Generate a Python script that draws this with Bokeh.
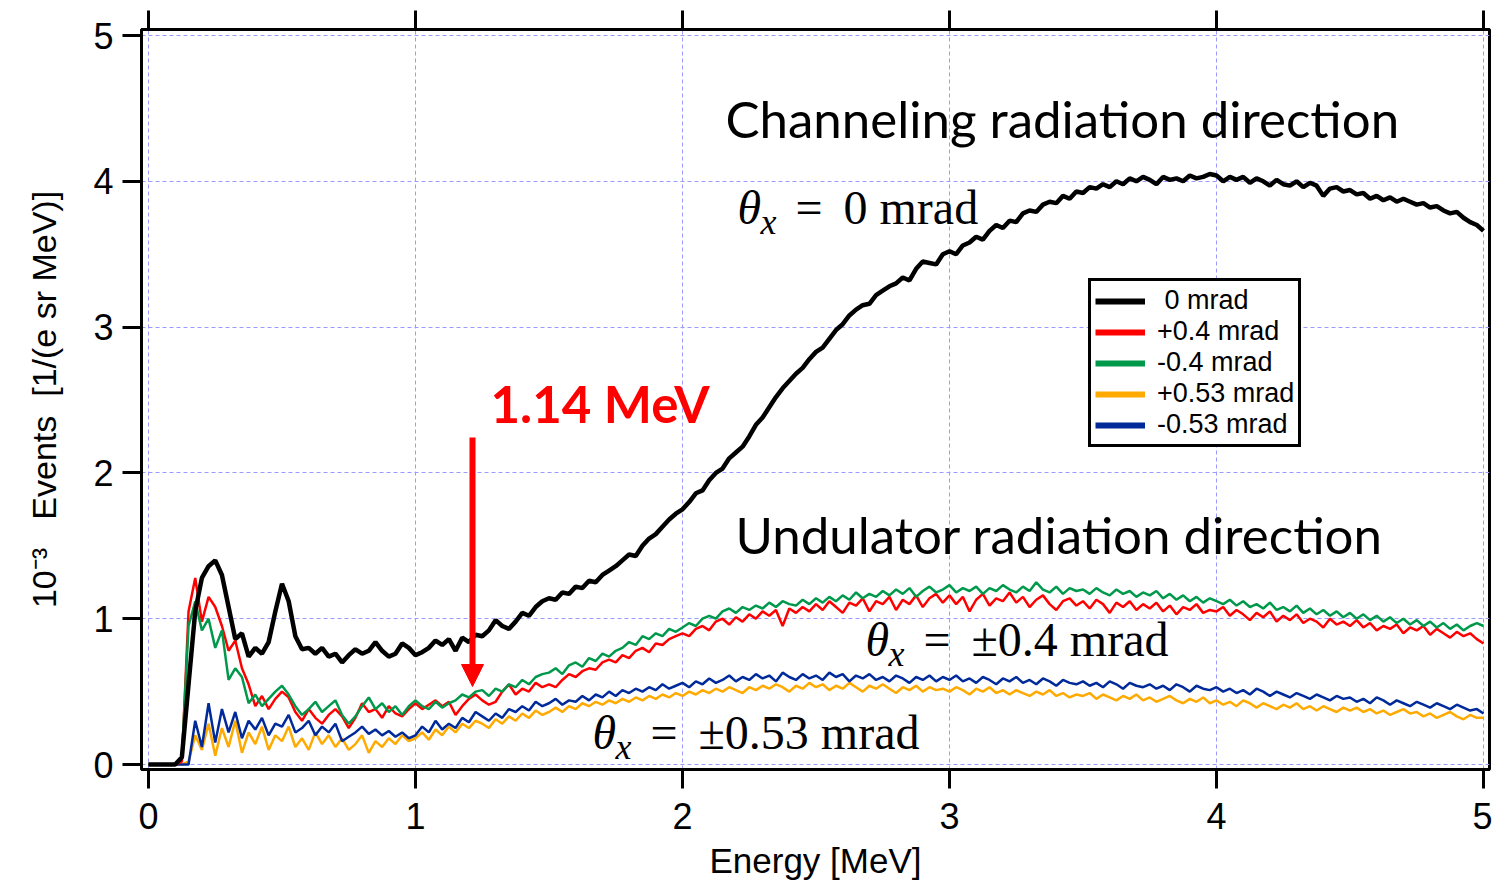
import math
from bokeh.plotting import figure
from bokeh.models import (Range1d, LinearAxis, FixedTicker, Label, Arrow,
                          NormalHead, Legend, LegendItem)
from bokeh.embed import file_html
from bokeh.resources import INLINE

# ---------------- data ----------------
energy = [round(0.025 * i, 3) for i in range(201)]   # MeV grid, 0 .. 5

ticks = [0, 1, 2, 3, 4, 5]

mrad_0 = [
    0, 0, 0, 0, 0, 0.05, 0.55, 1.05, 1.28, 1.36,
    1.40, 1.30, 1.08, 0.86, 0.90, 0.74, 0.80, 0.76, 0.84, 1.05,
    1.24, 1.12, 0.88, 0.79, 0.80, 0.76, 0.80, 0.74, 0.76, 0.70,
    0.75, 0.79, 0.76, 0.78, 0.84, 0.78, 0.74, 0.76, 0.83, 0.80,
    0.75, 0.77, 0.80, 0.85, 0.82, 0.86, 0.78, 0.87, 0.84, 0.89,
    0.88, 0.92, 0.99, 0.95, 0.93, 0.98, 1.04, 1.02, 1.08, 1.12,
    1.14, 1.13, 1.18, 1.17, 1.22, 1.21, 1.26, 1.25, 1.30, 1.33,
    1.36, 1.40, 1.44, 1.43, 1.50, 1.55, 1.58, 1.63, 1.68, 1.72,
    1.75, 1.80, 1.86, 1.88, 1.95, 2.00, 2.03, 2.10, 2.14, 2.18,
    2.25, 2.33, 2.38, 2.45, 2.52, 2.58, 2.63, 2.68, 2.72, 2.78,
    2.83, 2.86, 2.92, 2.98, 3.02, 3.08, 3.12, 3.15, 3.16, 3.22,
    3.25, 3.28, 3.30, 3.34, 3.32, 3.40, 3.45, 3.44, 3.43, 3.50,
    3.52, 3.50, 3.56, 3.58, 3.62, 3.60, 3.66, 3.70, 3.68, 3.73,
    3.72, 3.78, 3.80, 3.79, 3.84, 3.86, 3.85, 3.90, 3.88, 3.93,
    3.92, 3.96, 3.95, 3.98, 3.96, 4.00, 3.98, 4.02, 4.00, 4.03,
    4.01, 3.98, 4.03, 4.01, 4.02, 4.00, 4.04, 4.02, 4.03, 4.05,
    4.04, 4.00, 4.03, 4.01, 4.03, 3.99, 4.02, 4.00, 3.97, 4.01,
    3.98, 3.97, 4.00, 3.96, 3.99, 3.97, 3.90, 3.95, 3.96, 3.93,
    3.94, 3.91, 3.92, 3.88, 3.90, 3.87, 3.89, 3.86, 3.88, 3.86,
    3.84, 3.85, 3.82, 3.83, 3.80, 3.78, 3.79, 3.75, 3.72, 3.70,
    3.66,
]

mrad_p04 = [
    0, 0, 0, 0, 0, 0.02, 1.05, 1.28, 0.98, 1.15,
    1.08, 0.95, 0.78, 0.85, 0.66, 0.55, 0.40, 0.47, 0.38, 0.45,
    0.50, 0.46, 0.36, 0.30, 0.38, 0.32, 0.28, 0.34, 0.38, 0.33,
    0.25, 0.32, 0.42, 0.36, 0.38, 0.32, 0.40, 0.35, 0.33, 0.38,
    0.42, 0.38, 0.41, 0.44, 0.40, 0.43, 0.34, 0.40, 0.45, 0.48,
    0.44, 0.41, 0.43, 0.50, 0.55, 0.48, 0.52, 0.50, 0.56, 0.53,
    0.55, 0.53, 0.58, 0.62, 0.60, 0.64, 0.66, 0.65, 0.70, 0.72,
    0.70, 0.75, 0.73, 0.78, 0.80, 0.77, 0.83, 0.82, 0.86, 0.88,
    0.90, 0.88, 0.93, 0.95, 0.92, 0.98, 1.00, 0.96, 1.01, 0.98,
    1.03, 1.00, 1.05, 1.02, 1.06, 0.95, 1.07, 1.04, 1.08, 1.05,
    1.10, 1.06, 1.12, 1.08, 1.04, 1.11, 1.09, 1.14, 1.05, 1.12,
    1.10, 1.15, 1.06, 1.13, 1.10, 1.16, 1.08, 1.14, 1.17, 1.11,
    1.16, 1.10, 1.15, 1.05, 1.13, 1.17, 1.09, 1.14, 1.12, 1.18,
    1.11, 1.15, 1.08, 1.13, 1.16, 1.10, 1.06, 1.12, 1.14, 1.09,
    1.12, 1.07, 1.13, 1.10, 1.04, 1.11, 1.08, 1.12, 1.06, 1.10,
    1.07, 1.11, 1.05, 1.09, 1.03, 1.08, 1.06, 1.10, 1.04, 1.06,
    1.05, 1.08, 1.02, 1.06, 1.03, 0.99, 1.04, 1.01, 1.05, 0.98,
    1.02, 0.99, 1.03, 0.97, 1.00, 0.98, 0.94, 1.00, 0.96, 0.98,
    0.95, 0.99, 0.94, 0.97, 0.92, 0.95, 0.93, 0.96, 0.90, 0.94,
    0.92, 0.95, 0.89, 0.93, 0.90, 0.87, 0.91, 0.88, 0.90, 0.86,
    0.83,
]

mrad_m04 = [
    0, 0, 0, 0, 0, 0.05, 0.95, 1.12, 0.92, 1.00,
    0.80, 0.92, 0.58, 0.66, 0.60, 0.42, 0.48, 0.40, 0.45, 0.50,
    0.54, 0.48, 0.40, 0.34, 0.38, 0.43, 0.36, 0.40, 0.44, 0.34,
    0.28, 0.33, 0.40, 0.46, 0.38, 0.42, 0.36, 0.40, 0.34, 0.40,
    0.44, 0.40, 0.38, 0.43, 0.39, 0.42, 0.44, 0.48, 0.46, 0.50,
    0.51, 0.47, 0.52, 0.50, 0.55, 0.53, 0.58, 0.55, 0.60, 0.62,
    0.63, 0.66, 0.62, 0.68, 0.70, 0.67, 0.73, 0.71, 0.76, 0.74,
    0.78, 0.80, 0.84, 0.82, 0.88, 0.86, 0.90, 0.88, 0.93, 0.91,
    0.94, 0.97, 0.95, 1.00, 1.02, 1.00, 1.05, 1.07, 1.04, 1.08,
    1.06, 1.09, 1.07, 1.11, 1.08, 1.12, 1.10, 1.09, 1.13, 1.10,
    1.14, 1.11, 1.15, 1.12, 1.16, 1.13, 1.18, 1.14, 1.17, 1.15,
    1.19, 1.16, 1.20, 1.17, 1.21, 1.15, 1.19, 1.22, 1.18, 1.20,
    1.23, 1.18, 1.21, 1.19, 1.22, 1.17, 1.21, 1.19, 1.23, 1.20,
    1.18, 1.22, 1.19, 1.25, 1.20, 1.18, 1.22, 1.17, 1.21, 1.19,
    1.20, 1.17, 1.21, 1.18, 1.16, 1.20, 1.17, 1.19, 1.15, 1.18,
    1.16, 1.19, 1.14, 1.17, 1.13, 1.16, 1.12, 1.15, 1.11, 1.14,
    1.12, 1.10, 1.13, 1.09, 1.12, 1.08, 1.10, 1.07, 1.11, 1.06,
    1.08, 1.05, 1.09, 1.04, 1.07, 1.03, 1.06, 1.02, 1.05, 1.01,
    1.04, 1.00, 1.03, 0.99, 1.02, 0.98, 1.01, 0.97, 1.00, 0.96,
    0.99, 0.95, 0.98, 0.94, 0.97, 0.93, 0.96, 0.92, 0.95, 0.97,
    0.95,
]

mrad_p053 = [
    0, 0, 0, 0, 0, 0.00, 0.02, 0.20, 0.10, 0.28,
    0.06, 0.25, 0.12, 0.30, 0.08, 0.22, 0.14, 0.26, 0.10, 0.20,
    0.16, 0.26, 0.12, 0.18, 0.10, 0.22, 0.14, 0.20, 0.12, 0.18,
    0.10, 0.14, 0.20, 0.08, 0.16, 0.12, 0.18, 0.14, 0.20, 0.16,
    0.18, 0.22, 0.17, 0.24, 0.20, 0.26, 0.22, 0.28, 0.25, 0.30,
    0.28, 0.25, 0.31, 0.28, 0.33, 0.30, 0.35, 0.32, 0.37, 0.34,
    0.36, 0.39, 0.36, 0.40, 0.38, 0.42, 0.40, 0.43, 0.41, 0.44,
    0.42, 0.45, 0.43, 0.46, 0.44, 0.47, 0.45, 0.48, 0.46, 0.49,
    0.47, 0.50, 0.48, 0.51, 0.49, 0.52, 0.50, 0.53, 0.51, 0.49,
    0.53, 0.51, 0.54, 0.52, 0.55, 0.53, 0.50, 0.54, 0.52, 0.56,
    0.53, 0.55, 0.51, 0.54, 0.52, 0.56, 0.53, 0.50, 0.54, 0.52,
    0.55, 0.52, 0.49, 0.53, 0.51, 0.54, 0.50, 0.53, 0.51, 0.52,
    0.50, 0.53, 0.51, 0.48, 0.52, 0.50, 0.53, 0.49, 0.51, 0.48,
    0.51, 0.49, 0.47, 0.50, 0.48, 0.51, 0.47, 0.49, 0.46, 0.48,
    0.47, 0.49, 0.45, 0.48, 0.46, 0.44, 0.47, 0.45, 0.48, 0.44,
    0.46, 0.43, 0.45, 0.47, 0.44, 0.42, 0.45, 0.43, 0.46, 0.42,
    0.44, 0.41, 0.43, 0.40, 0.44, 0.42, 0.39, 0.42, 0.40, 0.38,
    0.41, 0.39, 0.42, 0.38, 0.40, 0.37, 0.40, 0.38, 0.36, 0.39,
    0.37, 0.39, 0.36, 0.38, 0.35, 0.37, 0.34, 0.36, 0.38, 0.35,
    0.36, 0.33, 0.35, 0.32, 0.34, 0.36, 0.33, 0.31, 0.34, 0.32,
    0.32,
]

mrad_m053 = [
    0, 0, 0, 0, 0, 0.00, 0.00, 0.30, 0.12, 0.42,
    0.15, 0.38, 0.22, 0.36, 0.18, 0.30, 0.24, 0.32, 0.20, 0.28,
    0.26, 0.34, 0.22, 0.25, 0.30, 0.20, 0.26, 0.22, 0.28, 0.16,
    0.19, 0.22, 0.26, 0.21, 0.24, 0.20, 0.23, 0.19, 0.22, 0.18,
    0.20, 0.26, 0.22, 0.30, 0.24, 0.28, 0.25, 0.32, 0.29, 0.36,
    0.33, 0.30, 0.35, 0.32, 0.38, 0.36, 0.40, 0.37, 0.43, 0.40,
    0.42, 0.45, 0.41, 0.44, 0.43, 0.47, 0.44, 0.48, 0.46, 0.50,
    0.47, 0.51, 0.49, 0.52, 0.50, 0.53, 0.51, 0.55, 0.52, 0.54,
    0.56, 0.53, 0.57, 0.55, 0.59, 0.56, 0.58, 0.61, 0.57, 0.60,
    0.58, 0.62, 0.59, 0.61, 0.57, 0.63, 0.60, 0.58, 0.62, 0.59,
    0.61, 0.58, 0.63, 0.60, 0.62, 0.57, 0.61, 0.59, 0.62, 0.58,
    0.60, 0.57, 0.61, 0.59, 0.56, 0.60, 0.58, 0.61, 0.57, 0.60,
    0.58, 0.61, 0.57, 0.59, 0.56, 0.60, 0.58, 0.55, 0.59, 0.57,
    0.60, 0.56, 0.58, 0.55, 0.59, 0.57, 0.54, 0.58, 0.56, 0.55,
    0.57, 0.54, 0.56, 0.53, 0.57, 0.55, 0.52, 0.56, 0.54, 0.53,
    0.55, 0.52, 0.54, 0.51, 0.55, 0.53, 0.50, 0.54, 0.52, 0.51,
    0.53, 0.50, 0.52, 0.49, 0.51, 0.48, 0.52, 0.50, 0.47, 0.50,
    0.48, 0.46, 0.49, 0.47, 0.45, 0.48, 0.46, 0.44, 0.47, 0.45,
    0.46, 0.43, 0.45, 0.42, 0.46, 0.44, 0.41, 0.44, 0.42, 0.40,
    0.43, 0.41, 0.39, 0.42, 0.40, 0.38, 0.41, 0.39, 0.37, 0.38,
    0.35,
]

series_labels = [" 0 mrad", "+0.4 mrad", "-0.4 mrad", "+0.53 mrad", "-0.53 mrad"]
series_colors = ["#000000", "#ff0000", "#00994c", "#ffaa00", "#002a9a"]

x_title = "Energy [MeV]"
y_title = "10\u207b\u00b3\u00a0\u00a0\u00a0Events\u00a0\u00a0[1/(e sr MeV)]"

# ---------------- figure ----------------
W, H = 1492, 883
FL, FR, FT, FB = 141, 1489, 29, 769          # frame edges in pixels
X0, XPU = 148, 267.0                          # pixel of x=0, px per MeV
Y0, YPU = 764, 145.8                          # pixel of y=0, px per unit


def X(px):
    return (px - X0) / XPU


def Y(py):
    return (Y0 - py) / YPU


p = figure(width=W, height=H, output_backend="svg", toolbar_location=None,
           x_range=Range1d(X(FL), X(FR)), y_range=Range1d(Y(FB), Y(FT)),
           min_border_left=FL, min_border_right=W - FR,
           min_border_top=FT, min_border_bottom=H - FB)
p.background_fill_color = "white"
p.border_fill_color = "white"
p.outline_line_color = "black"
p.outline_line_width = 3

for ax, standoff in ((p.xaxis[0], 14), (p.yaxis[0], 9)):
    ax.ticker = FixedTicker(ticks=ticks)
    ax.axis_line_width = 3
    ax.major_tick_line_width = 3
    ax.major_tick_in = 0
    ax.major_tick_out = 19
    ax.minor_tick_line_color = None
    ax.major_label_text_font = "Liberation Sans"
    ax.major_label_text_font_size = "36px"
    ax.major_label_text_color = "black"
    ax.major_label_standoff = standoff
    ax.axis_label_text_font = "Liberation Sans"
    ax.axis_label_text_font_style = "normal"
    ax.axis_label_text_color = "black"

p.xaxis[0].axis_label = x_title
p.xaxis[0].axis_label_text_font_size = "35px"
p.xaxis[0].axis_label_standoff = 9
p.yaxis[0].axis_label = y_title
p.yaxis[0].axis_label_text_font_size = "34px"
p.yaxis[0].axis_label_standoff = 27

top = LinearAxis(ticker=FixedTicker(ticks=ticks), axis_line_width=3,
                 major_tick_line_width=3, major_tick_in=0, major_tick_out=19,
                 minor_tick_line_color=None, major_label_text_font_size="1px",
                 major_label_text_color=None, major_label_standoff=0)
p.add_layout(top, "above")

for g in (p.xgrid[0], p.ygrid[0]):
    g.ticker = FixedTicker(ticks=ticks)
    g.grid_line_color = "#9a9aff"
    g.grid_line_width = 1
    g.grid_line_dash = "4 3"

# data lines (drawn back to front)
p.line(energy, mrad_p053, line_color=series_colors[3], line_width=2.5)
p.line(energy, mrad_m053, line_color=series_colors[4], line_width=2.5)
p.line(energy, mrad_p04, line_color=series_colors[1], line_width=2.5)
p.line(energy, mrad_m04, line_color=series_colors[2], line_width=2.5)
p.line(energy, mrad_0, line_color=series_colors[0], line_width=4.5)

# legend (thick swatches, as in the figure)
items = []
for lab_text, col in zip(series_labels, series_colors):
    r = p.line(x=[float("nan")], y=[float("nan")], line_color=col, line_width=6)
    items.append(LegendItem(label=lab_text, renderers=[r]))
legend = Legend(items=items, location=(1088 - FL, FB - 447),
                label_text_font="Liberation Sans", label_text_font_size="27px",
                label_text_color="black",
                glyph_width=50, glyph_height=30, label_height=30, spacing=-3,
                padding=4, margin=0, label_standoff=12,
                border_line_color="black", border_line_width=3,
                border_line_alpha=1.0,
                background_fill_color="white", background_fill_alpha=1)
p.add_layout(legend)

# arrow at 1.14 MeV
p.add_layout(Arrow(end=NormalHead(size=22, fill_color="#ff0000", line_color="#ff0000"),
                   x_start=X(472), y_start=Y(437), x_end=X(472), y_end=Y(686),
                   line_color="#ff0000", line_width=6))


def lab(px, py, text, font="Liberation Sans", size=36, color="black",
        style="normal", align="left", baseline="alphabetic", angle=0.0):
    p.add_layout(Label(x=X(px), y=Y(py), text=text, text_font=font,
                       text_font_size=f"{size}px", text_color=color,
                       text_font_style=style, text_align=align,
                       text_baseline=baseline, angle=angle))


lab(490, 403, "1.14 MeV", font="Lato", size=51, color="#ff0000", style="bold")
lab(725, 118, "Channeling radiation direction", font="Lato", size=51)
lab(735, 534, "Undulator radiation direction", font="Lato", size=51)


def theta(px, py, value):
    lab(px, py, "θ", font="Liberation Serif", size=48, style="italic")
    lab(px + 23, py + 14, "x", font="Liberation Serif", size=36, style="italic")
    lab(px + 58, py, "=", font="Liberation Serif", size=48)
    lab(px + 106, py, value, font="Liberation Serif", size=48)


theta(737, 207, "0 mrad")
theta(865, 639, "±0.4 mrad")
theta(592, 732, "±0.53 mrad")

open("out.html", "w").write(file_html(p, INLINE))
